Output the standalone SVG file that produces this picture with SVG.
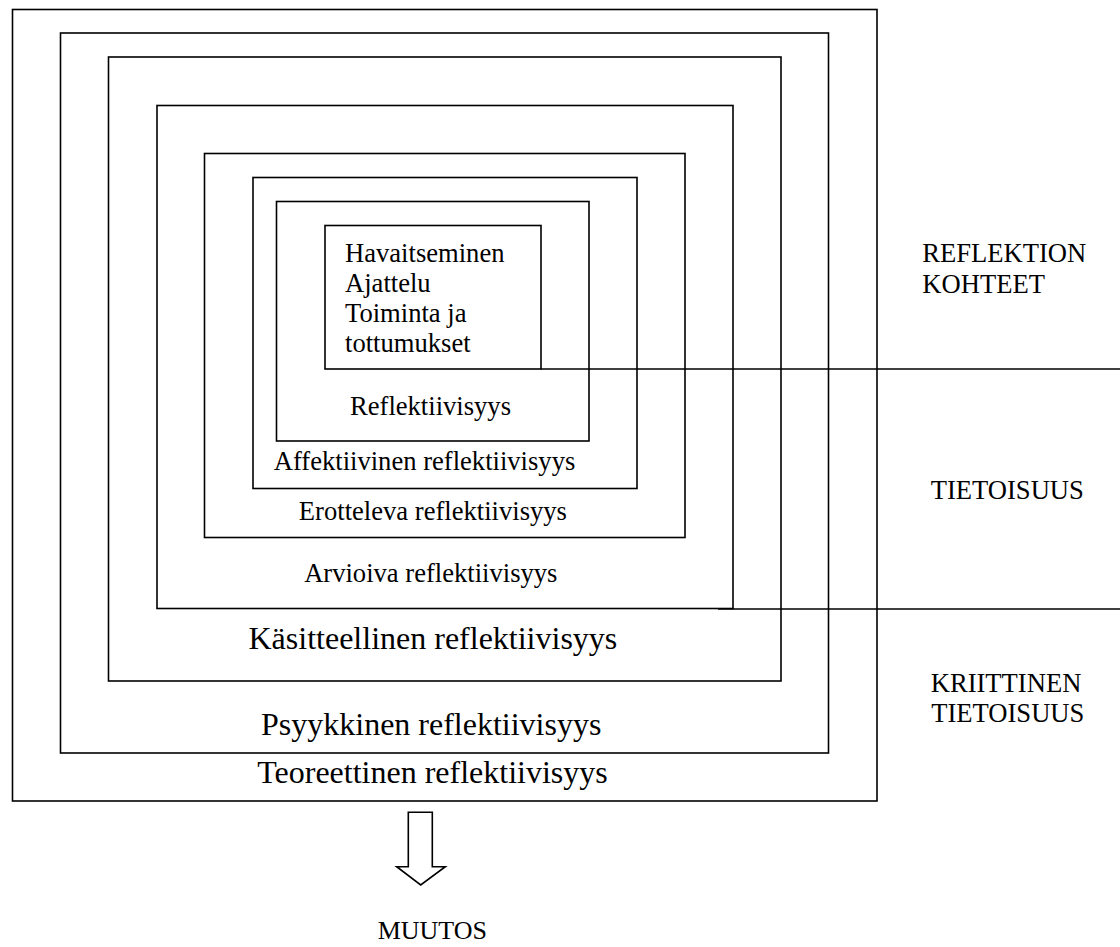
<svg xmlns="http://www.w3.org/2000/svg" width="1120" height="947" viewBox="0 0 1120 947">
  <style>
    .box { fill: none; stroke: #000; stroke-width: 1.6; }
    .rule { fill: none; stroke: #000; stroke-width: 1.6; }
    text { font-family: "Liberation Serif", "Times New Roman", serif; fill: #000; }
    .s { font-size: 26.6px; }
    .l { font-size: 32px; }
    .c { text-anchor: middle; }
  </style>
  <rect width="1120" height="947" fill="#fff"/>

  <!-- nested levels, outermost first -->
  <g id="teoreettinen">
    <rect class="box" x="12.5" y="9.5" width="864.5" height="791.5"/>
    <text class="l c" x="432.5" y="783.3">Teoreettinen reflektiivisyys</text>
  </g>
  <g id="psyykkinen">
    <rect class="box" x="60.5" y="33" width="768" height="720"/>
    <text class="l c" x="431.2" y="735">Psyykkinen reflektiivisyys</text>
  </g>
  <g id="kasitteellinen">
    <rect class="box" x="108.5" y="57" width="672.5" height="624"/>
    <text class="l c" x="432.9" y="649">Käsitteellinen reflektiivisyys</text>
  </g>
  <g id="arvioiva">
    <rect class="box" x="157" y="105.5" width="576" height="503"/>
    <text class="s c" x="430.8" y="582.3">Arvioiva reflektiivisyys</text>
  </g>
  <g id="erotteleva">
    <rect class="box" x="204.5" y="153.5" width="480.5" height="384"/>
    <text class="s c" x="432.9" y="520">Erotteleva reflektiivisyys</text>
  </g>
  <g id="affektiivinen">
    <rect class="box" x="253" y="177.5" width="384" height="311"/>
    <text class="s c" x="424.5" y="470">Affektiivinen reflektiivisyys</text>
  </g>
  <g id="reflektiivisyys">
    <rect class="box" x="276.5" y="201.5" width="312.5" height="239.5"/>
    <text class="s c" x="430.5" y="415">Reflektiivisyys</text>
  </g>
  <g id="kohteet">
    <rect class="box" x="325" y="225.5" width="216" height="143.5"/>
    <text class="s" x="345" y="261.7">Havaitseminen</text>
    <text class="s" x="345" y="291.7">Ajattelu</text>
    <text class="s" x="345" y="321.7">Toiminta ja</text>
    <text class="s" x="345" y="351.7">tottumukset</text>
  </g>

  <!-- divider rules and the outgoing arrow -->
  <g id="connectors">
    <line class="rule" x1="541" y1="369" x2="1120" y2="369"/>
    <line class="rule" x1="718" y1="609" x2="1120" y2="609"/>
    <polygon class="box" points="408.3,812.3 432.3,812.3 432.3,866.7 445.3,866.7 420.7,885 396.7,866.7 408.3,866.7"/>
  </g>

  <!-- side labels -->
  <g id="label-kohteet">
    <text class="s" x="922.3" y="262.3">REFLEKTION</text>
    <text class="s" x="922.3" y="292.7">KOHTEET</text>
  </g>
  <g id="label-tietoisuus">
    <text class="s" x="930.7" y="499">TIETOISUUS</text>
  </g>
  <g id="label-kriittinen">
    <text class="s" x="930.7" y="692.3">KRIITTINEN</text>
    <text class="s" x="931.2" y="722.3">TIETOISUUS</text>
  </g>
  <g id="muutos">
    <text class="s" x="377.7" y="939.3" style="font-size:26px">MUUTOS</text>
  </g>
</svg>
